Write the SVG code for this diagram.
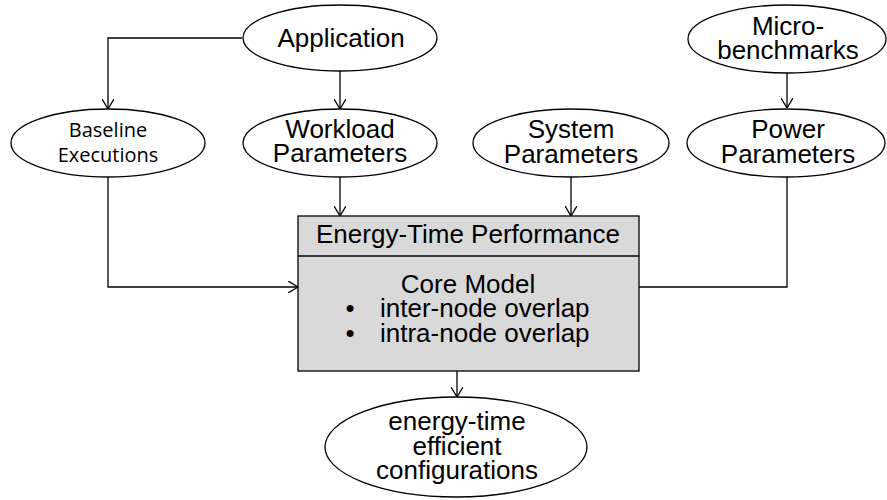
<svg xmlns="http://www.w3.org/2000/svg" width="887" height="500" viewBox="0 0 887 500">
  <style>
    .node ellipse { fill: #ffffff; stroke: #000000; stroke-width: 1.3; }
    .box rect { fill: #d9d9d9; stroke: #000000; stroke-width: 1.3; }
    .box line { stroke: #000000; stroke-width: 1.3; }
    text { font-family: "Liberation Sans", Arial, sans-serif; font-size: 26px; fill: #000000; text-anchor: middle; }
    text.cal { font-family: "Open Sans", "Liberation Sans", sans-serif; font-size: 20px; }
    text.left { text-anchor: start; }
    .edges path { fill: none; stroke: #000000; stroke-width: 1.3; }
  </style>
  <defs>
    <marker id="arrow" viewBox="0 0 10 12" refX="10" refY="6" markerWidth="10" markerHeight="12" markerUnits="userSpaceOnUse" orient="auto">
      <path d="M0,0 L10,6 L0,12" fill="none" stroke="#000000" stroke-width="1.3"/>
    </marker>
  </defs>

  <rect width="887" height="500" fill="#ffffff"/>

  <g class="edges">
    <path d="M242,38 H108 V109" marker-end="url(#arrow)"/>
    <path d="M340,71 V109" marker-end="url(#arrow)"/>
    <path d="M787,73 V108" marker-end="url(#arrow)"/>
    <path d="M108,177 V287 H298" marker-end="url(#arrow)"/>
    <path d="M340,177 V216" marker-end="url(#arrow)"/>
    <path d="M571,177 V216" marker-end="url(#arrow)"/>
    <path d="M787,177 V287 H639"/>
    <path d="M457,371 V397" marker-end="url(#arrow)"/>
  </g>

  <g id="application" class="node">
    <ellipse cx="340" cy="38" rx="97" ry="33"/>
    <text x="341" y="47">Application</text>
  </g>

  <g id="microbenchmarks" class="node">
    <ellipse cx="787" cy="39" rx="99" ry="34"/>
    <text x="788" y="35">Micro-</text>
    <text x="788" y="59">benchmarks</text>
  </g>

  <g id="baseline" class="node">
    <ellipse cx="108" cy="143" rx="97" ry="34"/>
    <text class="cal" x="108" y="137">Baseline</text>
    <text class="cal" x="108" y="162">Executions</text>
  </g>

  <g id="workload" class="node">
    <ellipse cx="340" cy="143" rx="97" ry="34"/>
    <text x="340" y="138">Workload</text>
    <text x="340" y="162">Parameters</text>
  </g>

  <g id="system" class="node">
    <ellipse cx="571" cy="143" rx="98" ry="34"/>
    <text x="571" y="138">System</text>
    <text x="571" y="163">Parameters</text>
  </g>

  <g id="power" class="node">
    <ellipse cx="786" cy="143" rx="99" ry="34"/>
    <text x="788" y="138">Power</text>
    <text x="788" y="163">Parameters</text>
  </g>

  <g id="core-model" class="box">
    <rect x="298" y="216" width="341" height="155"/>
    <line x1="298" y1="256" x2="639" y2="256"/>
    <text x="468" y="243">Energy-Time Performance</text>
    <text x="468" y="293">Core Model</text>
    <text x="350" y="317">•</text>
    <text class="left" x="380" y="317">inter-node overlap</text>
    <text x="350" y="342">•</text>
    <text class="left" x="380" y="342">intra-node overlap</text>
  </g>

  <g id="configurations" class="node">
    <ellipse cx="456" cy="447" rx="131" ry="50"/>
    <text x="457" y="430">energy-time</text>
    <text x="457" y="455">efficient</text>
    <text x="457" y="479">configurations</text>
  </g>
</svg>
